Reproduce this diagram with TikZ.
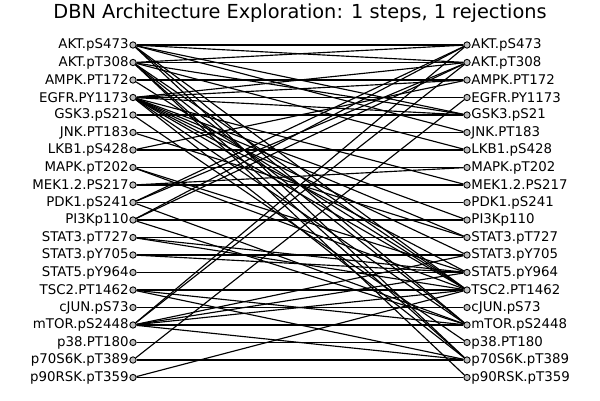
\documentclass[tikz,border=0pt]{standalone}
\usepackage{fontspec}
\setmainfont{DejaVu Sans}
\usetikzlibrary{positioning}

\tikzset{
  dot/.style={circle,draw,fill=gray!50,inner sep=0pt,minimum size=3.6pt,line width=.5pt},
  lab/.style={font=\fontsize{7.6}{8}\selectfont,inner sep=.3pt},
  edge/.style={line width=.65pt}
}

\begin{document}
\begin{tikzpicture}[x=.02cm,y=-.02cm]
\useasboundingbox (0,0) rectangle (600,400);
\node[font=\fontsize{11}{13}\selectfont] (title) at (300,13) {DBN Architecture Exploration: 1 steps, 1 rejections};
% both columns of variables
\foreach \v [count=\i from 0] in {AKT.pS473,AKT.pT308,AMPK.PT172,EGFR.PY1173,GSK3.pS21,JNK.PT183,LKB1.pS428,MAPK.pT202,MEK1.2.PS217,PDK1.pS241,PI3Kp110,STAT3.pT727,STAT3.pY705,STAT5.pY964,TSC2.PT1462,cJUN.pS73,mTOR.pS2448,p38.PT180,p70S6K.pT389,p90RSK.pT359}{
  \node[dot] (L\i) at (133,45+17.5*\i) {};
  \node[dot] (R\i) at (467,45+17.5*\i) {};
  \node[lab,left=0pt of L\i] (lt\i) {\v};
  \node[lab,right=0pt of R\i] (rt\i) {\v};
}
% edges t -> t+1
\foreach \i in {0,...,19}{\draw[edge] (L\i) -- (R\i);}
\foreach \a/\b in {0/1,0/4,0/5,0/14,0/16,0/18,
  1/0,1/4,1/6,1/14,1/16,1/18,1/19,
  2/14,
  3/1,3/2,3/4,3/8,3/10,3/11,3/12,3/13,3/14,3/16,3/18,
  4/17,5/11,6/2,7/13,7/14,8/7,
  9/0,9/1,9/16,10/0,10/1,10/16,
  11/13,11/14,12/13,14/16,14/18,
  16/0,16/1,16/12,16/13,16/14,16/18,
  18/3,19/14}{
  \draw[edge] (L\a) -- (R\b);
}
\end{tikzpicture}
\end{document}
